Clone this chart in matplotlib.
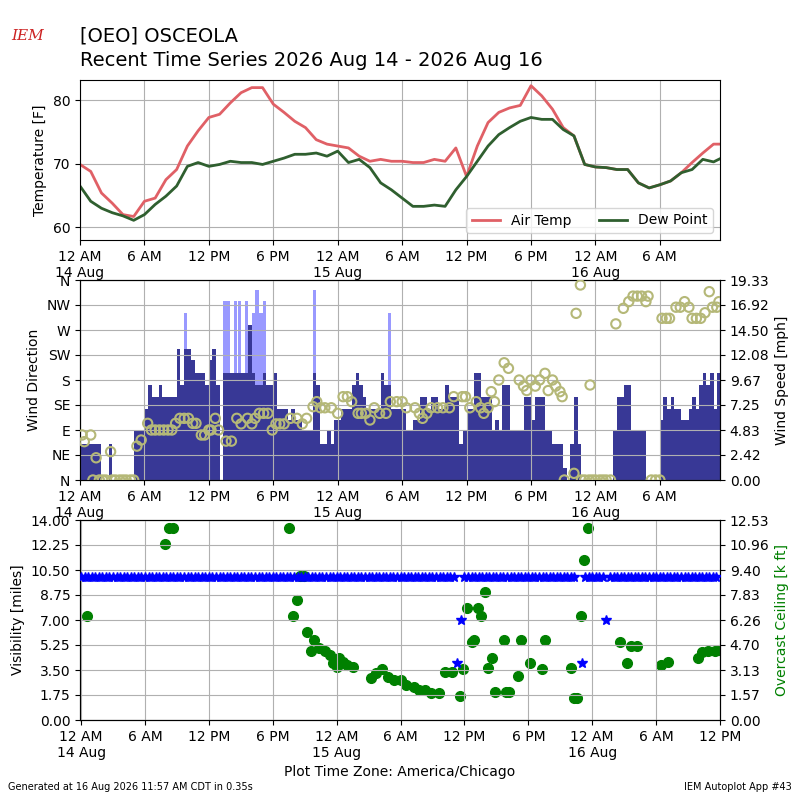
import matplotlib
matplotlib.use("Agg")
import matplotlib.pyplot as plt
import numpy as np

# hours since 14 Aug 00:00
temp_hours = list(range(0, 60)) + [59.6]
air_temp = [69.9, 68.8, 65.4, 63.8, 62.0, 61.7, 64.1, 64.6, 67.5, 69.1,
            72.8, 75.2, 77.3, 77.8, 79.6, 81.2, 82.0, 82.0, 79.4, 78.1,
            76.7, 75.7, 73.8, 73.1, 72.8, 72.5, 71.2, 70.4, 70.7, 70.4,
            70.4, 70.2, 70.2, 70.7, 70.4, 72.5, 68.0, 72.8, 76.5, 78.1,
            78.8, 79.2, 82.3, 80.7, 78.6, 75.7, 74.4, 69.9, 69.5, 69.4,
            69.1, 69.1, 67.0, 66.2, 66.7, 67.3, 68.6, 70.2, 71.7, 73.1, 73.1]
dew_point = [66.5, 64.1, 63.0, 62.3, 61.8, 61.1, 62.0, 63.6, 64.9, 66.5,
             69.6, 70.2, 69.6, 69.9, 70.4, 70.2, 70.2, 69.9, 70.4, 70.9,
             71.5, 71.5, 71.7, 71.2, 72.0, 70.2, 70.7, 69.4, 67.0, 65.9,
             64.6, 63.3, 63.3, 63.5, 63.3, 65.9, 68.0, 70.4, 72.8, 74.6,
             75.7, 76.7, 77.3, 77.0, 77.0, 75.4, 74.4, 69.9, 69.5, 69.4,
             69.1, 69.1, 67.0, 66.2, 66.7, 67.3, 68.6, 69.1, 70.7, 70.3, 70.8]

# wind speed [mph], one value per 20 minutes
wind_speed = [3.5, 3.5, 3.5, 3.5, 3.5, 3.5, 0, 0, 3.5, 0,
              0, 0, 0, 0, 0, 4.7, 4.7, 4.7, 6.9, 9.2,
              8.0, 8.0, 9.2, 8.0, 8.0, 8.0, 8.0, 12.7, 9.2, 12.7,
              12.7, 11.6, 10.3, 10.3, 10.3, 9.2, 11.6, 12.7, 9.2, 0,
              10.3, 10.3, 10.3, 10.3, 10.3, 10.3, 10.3, 15.0, 10.3, 9.2,
              9.2, 10.3, 9.2, 9.2, 10.3, 6.9, 6.9, 6.9, 5.8, 6.9,
              5.8, 5.8, 4.7, 4.7, 4.7, 10.3, 9.2, 3.5, 3.5, 4.7,
              3.5, 5.8, 5.8, 6.9, 6.9, 6.9, 9.2, 10.3, 9.2, 8.0,
              6.9, 6.9, 6.9, 6.9, 10.3, 9.2, 9.2, 6.9, 6.9, 6.9,
              6.9, 4.7, 4.7, 5.8, 5.8, 8.0, 8.0, 6.9, 8.0, 8.0,
              6.9, 6.9, 9.2, 8.0, 8.0, 8.0, 3.5, 4.7, 6.9, 6.9,
              10.3, 10.3, 8.0, 8.0, 8.0, 4.7, 5.8, 4.7, 9.2, 9.2,
              4.7, 4.7, 4.7, 4.7, 8.0, 8.0, 5.8, 8.0, 8.0, 8.0,
              4.7, 4.7, 3.5, 3.5, 3.5, 1.2, 0, 3.5, 8.0, 3.5,
              0, 0, 0, 0, 0, 0, 0, 0, 0, 4.7,
              8.0, 8.0, 9.2, 9.2, 4.7, 4.7, 4.7, 4.7, 0, 0,
              0, 0, 5.8, 8.0, 6.9, 8.0, 6.9, 6.9, 5.8, 5.8,
              6.9, 8.0, 6.9, 9.2, 10.3, 9.2, 10.3, 6.9, 10.3]
gust_hours = [9.67, 13.33, 13.67, 14.33, 14.67, 15.33, 16.0, 16.33, 16.67, 17.0, 21.67, 28.67]
gust_speed = [16.1, 17.3, 17.3, 17.3, 17.3, 17.3, 16.1, 18.4, 16.1, 17.3, 18.4, 16.1]

dir_hours = [0.2, 0.4, 1.0, 1.5, 2.85, 1.2, 1.8, 2.1, 2.4, 3.0, 3.3, 3.7, 4.0, 4.3, 4.7, 5.0,
             5.3, 5.7, 6.3, 6.65, 7.0, 7.4, 7.8, 8.2, 8.55, 8.9, 9.3, 9.7, 10.1, 10.5, 10.8,
             11.3, 11.6, 12.0, 12.2, 12.6, 12.9, 13.6, 14.1, 14.6, 15.0, 15.6, 16.0, 16.3,
             16.7, 17.1, 17.5, 17.9, 18.25, 18.6, 19.0, 19.6, 20.2, 20.7, 21.1, 21.7, 22.05,
             22.4, 22.8, 23.4, 24.0, 24.5, 24.9, 25.3, 25.9, 26.2, 26.6, 27.0, 27.4, 27.9,
             28.5, 28.9, 29.5, 30.0, 30.4, 31.2, 31.6, 31.9, 32.3, 32.7, 33.3, 33.8, 34.4,
             34.8, 35.6, 35.9, 36.3, 36.9, 37.3, 37.6, 38.0, 38.3, 38.6, 39.0, 39.5, 39.9,
             40.9, 41.3, 41.6, 42.0, 42.4, 42.8, 43.3, 43.6, 44.0, 44.3, 44.7, 44.9,
             45.1, 46.0, 46.2, 46.6, 46.7, 47.0, 47.4, 47.5, 47.7, 48.0, 48.4, 48.7, 49.0,
             49.4, 49.9, 50.6, 51.1, 51.5, 51.9, 52.3, 52.7, 52.9, 53.2, 53.6, 54.0, 54.2,
             54.6, 54.9, 55.5, 55.9, 56.3, 56.7, 57.0, 57.4, 57.8, 58.2, 58.6, 58.9, 59.3, 59.5]
dir_deg = [81, 69, 81, 40, 51, 0, 0, 0, 0, 0, 0, 0, 0, 0, 0, 0,
           61, 72, 102, 90, 90, 90, 90, 90, 90, 102, 111, 111, 111, 102, 102,
           81, 81, 90, 90, 111, 90, 70, 70, 111, 101, 111, 101, 111,
           120, 120, 120, 90, 101, 101, 101, 111, 111, 101, 111, 132, 141,
           130, 130, 130, 120, 150, 150, 141, 120, 120, 120, 108, 130, 120,
           120, 141, 141, 141, 130, 130, 120, 111, 120, 130, 130, 130, 130,
           150, 150, 150, 130, 141, 130, 120, 130, 159, 141, 180, 211, 201,
           180, 169, 161, 180, 169, 180, 192, 161, 180, 169, 159, 150,
           0, 12, 300, 351, 0, 0, 0, 171, 0, 0, 0, 0, 0,
           0, 281, 309, 321, 331, 331, 331, 321, 331, 0, 0, 0, 291,
           291, 291, 311, 311, 321, 311, 291, 291, 291, 301, 339, 311, 311, 321]

# visibility [miles] every 20 minutes, ceiling [k ft]
vis = [10.0] * 180
vis[106] = 4.0
vis[107] = 7.0
vis[140] = np.nan
vis[141] = 4.0
vis[148] = 7.0
ceil_hours = [0.6, 7.9, 8.3, 8.6, 19.5, 19.9, 20.3, 20.6, 20.9, 21.2, 21.9, 21.6, 22.3, 22.9,
              23.35, 23.65, 24.0, 24.2, 24.6, 25.0, 25.5, 27.2, 27.7, 28.25, 28.8, 29.4, 30.0,
              30.55, 31.3, 31.7, 32.3, 32.85, 33.6, 34.2, 34.8, 35.6, 35.9, 36.2, 36.7, 36.9,
              37.3, 37.6, 37.9, 38.2, 38.6, 38.9, 39.7, 39.9, 40.2, 41.0, 41.3, 42.2, 43.3,
              43.6, 46.0, 46.3, 46.6, 46.95, 47.2, 47.6, 50.6, 51.3, 51.6, 52.2, 54.5, 55.1,
              57.9, 58.3, 58.9, 59.5, 59.9]
ceiling = [6.52, 11.0, 12.0, 12.0, 12.0, 6.52, 7.5, 9.02, 9.02, 5.49, 4.99, 4.32, 4.49, 4.32,
           4.07, 3.55, 3.34, 3.9, 3.65, 3.45, 3.34, 2.61, 2.92, 3.2, 2.71, 2.5, 2.5,
           2.19, 2.09, 1.88, 1.88, 1.67, 1.67, 2.99, 2.99, 1.48, 3.2, 7.0, 4.9, 4.99,
           7.0, 6.52, 8.0, 3.28, 3.86, 1.78, 4.99, 1.78, 1.78, 2.78, 4.99, 3.55, 3.2,
           4.99, 3.28, 1.36, 1.36, 6.52, 10.0, 12.0, 4.87, 3.55, 4.66, 4.66, 3.45, 3.65,
           3.86, 4.24, 4.32, 4.32, 4.38]

speed_ticks = ["0.00", "2.42", "4.83", "7.25", "9.67", "12.08", "14.50", "16.92", "19.33"]
ceil_ticks = ["0.00", "1.57", "3.13", "4.70", "6.26", "7.83", "9.40", "10.96", "12.53"]


def hour_labels(hours):
    days = {0: "14 Aug", 24: "15 Aug", 48: "16 Aug"}
    names = {0: "12 AM", 6: "6 AM", 12: "12 PM", 18: "6 PM"}
    out = []
    for h in hours:
        lab = names[h % 24]
        if h in days:
            lab += "\n" + days[h]
        out.append(lab)
    return out


fig = plt.figure(figsize=(8, 8), dpi=100)

# temperature
ax1 = fig.add_axes([0.1, 0.7, 0.8, 0.2])
ax1.plot(temp_hours, air_temp, color="#e06066", lw=2, label="Air Temp")
ax1.plot(temp_hours, dew_point, color="#2f5f2f", lw=2, label="Dew Point")
ax1.set_ylim(58, 83.2)
ax1.set_yticks([60, 70, 80])
ax1.set_ylabel("Temperature [F]")
ax1.legend(loc="lower right", ncol=2)
ax1.grid(True)

# wind
ax2 = fig.add_axes([0.1, 0.4, 0.8, 0.25])
ax2b = ax2.twinx()
bar_x = np.arange(len(wind_speed)) / 3.0
ax2b.bar(gust_hours, gust_speed, width=1 / 3.0, align="edge", color="#9999ff")
ax2b.bar(bar_x, wind_speed, width=1 / 3.0, align="edge", color="#383896")
ax2b.set_ylim(0, 19.33)
ax2b.set_yticks(np.linspace(0, 19.33, 9))
ax2b.set_yticklabels(speed_ticks)
ax2b.set_ylabel("Wind Speed [mph]")
ax2.scatter(dir_hours, dir_deg, s=45, facecolor="none", edgecolor="#b5b878", lw=1.5, zorder=3)
ax2.set_zorder(ax2b.get_zorder() + 1)
ax2.patch.set_visible(False)
ax2.set_ylim(0, 360)
ax2.set_yticks(range(0, 361, 45))
ax2.set_yticklabels(["N", "NE", "E", "SE", "S", "SW", "W", "NW", "N"])
ax2.set_ylabel("Wind Direction")
ax2.grid(True)

top_ticks = list(range(0, 60, 6))
for ax in (ax1, ax2):
    ax.set_xlim(0, 59.6)
    ax.set_xticks(top_ticks)
    ax.set_xticklabels(hour_labels(top_ticks))

# visibility / ceiling
ax3 = fig.add_axes([0.1, 0.1, 0.8, 0.25])
ax3b = ax3.twinx()
vis_x = np.arange(len(vis)) / 3.0
ax3.plot(vis_x, vis, "*", color="blue", ms=7, zorder=3)
ax3b.plot(ceil_hours, ceiling, "o", color="green", ms=7)
ax3.set_zorder(ax3b.get_zorder() + 1)
ax3.patch.set_visible(False)
ax3.set_ylim(0, 14)
ax3.set_yticks(np.arange(0, 14.01, 1.75))
ax3.set_yticklabels(["%.2f" % v for v in np.arange(0, 14.01, 1.75)])
ax3.set_ylabel("Visibility [miles]")
ax3b.set_ylim(0, 12.53)
ax3b.set_yticks(np.linspace(0, 12.53, 9))
ax3b.set_yticklabels(ceil_ticks)
ax3b.set_ylabel("Overcast Ceiling [k ft]", color="green")
bot_ticks = list(range(0, 61, 6))
ax3.set_xlim(-0.1, 60)
ax3.set_xticks(bot_ticks)
ax3.set_xticklabels(hour_labels(bot_ticks))
ax3.grid(True)
ax3.set_xlabel("Plot Time Zone: America/Chicago")

fig.text(0.1, 0.955, "[OEO] OSCEOLA", fontsize=14, va="center")
fig.text(0.1, 0.925, "Recent Time Series 2026 Aug 14 - 2026 Aug 16", fontsize=14, va="center")
fig.text(0.035, 0.955, "IEM", color="#cc2222", fontsize=11, style="italic",
         family="serif", ha="center", va="center")
fig.text(0.01, 0.012, "Generated at 16 Aug 2026 11:57 AM CDT in 0.35s", fontsize=7)
fig.text(0.99, 0.012, "IEM Autoplot App #43", fontsize=7, ha="right")

fig.savefig("out.png", dpi=100)
